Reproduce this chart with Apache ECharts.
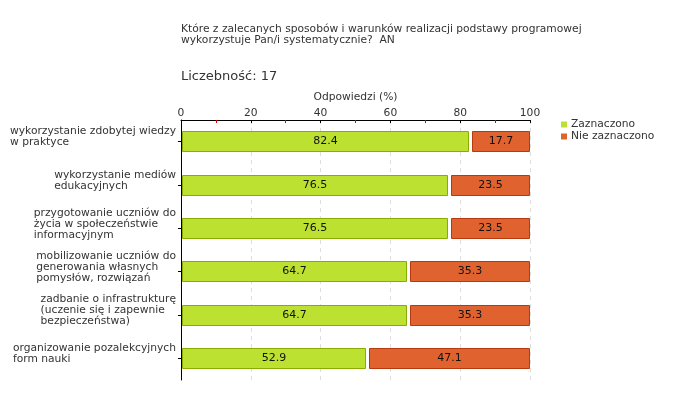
<!DOCTYPE html>
<html>
<head>
<meta charset="utf-8">
<script src="https://cdn.jsdelivr.net/npm/echarts@6/dist/echarts.min.js"></script>
<style>
html,body{margin:0;padding:0;background:#fff;}
#c{width:680px;height:400px;}
</style>
</head>
<body>
<div id="c"></div>
<script>
const titleText = 'Które z zalecanych sposobów i warunków realizacji podstawy programowej\nwykorzystuje Pan/i systematycznie?  AN';
const countText = 'Liczebność: 17';
const axisName = 'Odpowiedzi (%)';
const categories = [
  'wykorzystanie zdobytej wiedzy\nw praktyce',
  'wykorzystanie mediów\nedukacyjnych',
  'przygotowanie uczniów do\nżycia w społeczeństwie\ninformacyjnym',
  'mobilizowanie uczniów do\ngenerowania własnych\npomysłów, rozwiązań',
  'zadbanie o infrastrukturę\n(uczenie się i zapewnie\nbezpieczeństwa)',
  'organizowanie pozalekcyjnych\nform nauki'
];
const seriesNames = ['Zaznaczono', 'Nie zaznaczono'];
const zaznaczono = [82.4, 76.5, 76.5, 64.7, 64.7, 52.9];
const nieZaznaczono = [17.7, 23.5, 23.5, 35.3, 35.3, 47.1];
const xTicks = [0, 20, 40, 60, 80, 100];

const FONT = '"DejaVu Sans", Verdana, sans-serif';
const FS = 10.7;
const fills = ['#bde130', '#e0632f'];
const strokes = ['#8aab00', '#b63a0e'];

const greenData = zaznaczono.map((v, i) => [i, 0, v]);
const orangeData = nieZaznaczono.map((v, i) => [i, zaznaczono[i], zaznaczono[i] + v, v]);

function makeRender(idx, insetL) {
  return function (params, api) {
    const cat = api.value(0);
    const start = api.value(1);
    const end = api.value(2);
    const val = idx === 0 ? end - start : api.value(3);
    const p0 = api.coord([start, cat]);
    const p1 = api.coord([Math.min(end, 100), cat]);
    const band = api.size([0, 1])[1];
    const h = Math.round(band * 0.48);
    const left = Math.round(p0[0] + insetL) + 0.5;
    const right = Math.round(p1[0]) - 0.5;
    const top = Math.round(p0[1] - h / 2) + 0.5;
    return {
      type: 'group',
      children: [
        {
          type: 'rect',
          shape: { x: left, y: top, width: right - left, height: h - 1 },
          style: { fill: fills[idx], stroke: strokes[idx], lineWidth: 1 }
        },
        {
          type: 'text',
          style: {
            text: val.toFixed(1),
            x: (left + right) / 2,
            y: top + (h - 1) / 2,
            align: 'center',
            verticalAlign: 'middle',
            font: '11px ' + FONT,
            fill: '#111'
          }
        }
      ]
    };
  };
}

const chart = echarts.init(document.getElementById('c'), null, { renderer: 'canvas' });
chart.setOption({
  animation: false,
  backgroundColor: '#fff',
  textStyle: { fontFamily: FONT },
  title: [
    {
      text: titleText,
      left: 176, top: 19,
      textStyle: { fontSize: FS, fontWeight: 'normal', color: '#333', lineHeight: 11, fontFamily: FONT }
    },
    {
      text: countText,
      left: 176, top: 65,
      textStyle: { fontSize: 13, fontWeight: 'normal', color: '#333', fontFamily: FONT }
    }
  ],
  legend: {
    orient: 'vertical',
    left: 556, top: 114,
    itemWidth: 6, itemHeight: 6, itemGap: 1,
    icon: 'rect',
    data: seriesNames,
    textStyle: { fontSize: FS, color: '#333', fontFamily: FONT, padding: [0, 0, 0, -1] }
  },
  grid: { left: 181, right: 150, top: 120, bottom: 20 },
  xAxis: {
    type: 'value',
    position: 'top',
    min: xTicks[0], max: xTicks[xTicks.length - 1], interval: xTicks[1] - xTicks[0],
    name: axisName,
    nameLocation: 'middle',
    nameGap: 15,
    nameTextStyle: { fontSize: FS, color: '#333', fontFamily: FONT },
    axisLine: { show: true, lineStyle: { color: '#000', width: 1 } },
    axisTick: { show: true, inside: true, length: 3, lineStyle: { color: '#000' } },
    minorTick: { show: true, splitNumber: 2, length: 3, lineStyle: { color: '#d00' } },
    splitLine: { show: true, lineStyle: { color: '#ddd', type: [4, 4] } },
    axisLabel: { fontSize: FS, color: '#333', margin: 1, fontFamily: FONT }
  },
  yAxis: {
    type: 'category',
    inverse: true,
    data: categories,
    axisLine: { show: true, lineStyle: { color: '#000', width: 1 } },
    axisTick: { show: true, alignWithLabel: true, length: 3, lineStyle: { color: '#000' } },
    axisLabel: {
      margin: 5,
      color: '#333',
      fontSize: FS,
      lineHeight: 11,
      fontFamily: FONT,
      padding: [0, 0, 9, 0],
      formatter: function (v) { return v.split('\n').map(l => '{a|' + l + '}').join('\n'); },
      rich: { a: { align: 'left', fontSize: FS, lineHeight: 11, color: '#333', fontFamily: FONT } }
    }
  },
  series: [
    {
      type: 'custom', name: seriesNames[0],
      itemStyle: { color: fills[0] },
      renderItem: makeRender(0, 1),
      encode: { x: [1, 2], y: 0 },
      data: greenData
    },
    {
      type: 'custom', name: seriesNames[1],
      itemStyle: { color: fills[1] },
      renderItem: makeRender(1, 3.5),
      encode: { x: [1, 2], y: 0 },
      data: orangeData
    }
  ]
});
</script>
</body>
</html>
